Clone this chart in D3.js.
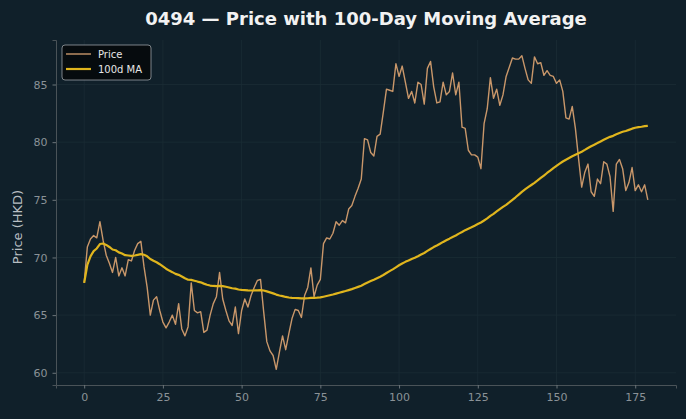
<!DOCTYPE html>
<html>
<head>
<meta charset="utf-8">
<script src="https://cdn.jsdelivr.net/npm/d3@7"></script>
<style>
  body { margin: 0; background: #10202a; }
  svg { display: block; font-family: "DejaVu Sans", sans-serif; }
</style>
</head>
<body>
<div id="chart"></div>
<script>
// daily closing prices, day 0..179
const prices = [
  67.8, 70.9, 71.6, 71.9, 71.7, 73.1, 71.5, 70.2, 69.5, 68.7,
  70.0, 68.4, 69.1, 68.4, 69.8, 69.7, 70.6, 71.2, 71.4, 69.2,
  67.4, 65.0, 66.3, 66.6, 65.4, 64.4, 63.9, 64.4, 65.0, 64.2,
  66.0, 63.8, 63.2, 64.0, 67.8, 65.4, 65.2, 65.3, 63.5, 63.7,
  65.0, 66.0, 66.6, 68.7, 66.4, 65.4, 64.5, 64.1, 65.7, 63.4,
  65.4, 66.4, 65.7, 66.7, 67.4, 68.0, 68.1, 65.3, 62.7, 61.9,
  61.5, 60.3, 61.8, 63.2, 62.0, 63.4, 64.7, 65.5, 65.4, 64.8,
  66.7, 67.4, 69.1, 66.6, 67.6, 68.1, 71.2, 71.7, 71.6, 72.1,
  73.1, 72.8, 73.2, 73.0, 74.2, 74.5, 75.3, 76.0, 76.8, 80.3,
  80.2, 79.1, 78.8, 80.5, 80.7, 82.6, 84.6, 84.5, 84.4, 86.8,
  85.7, 86.6, 85.2, 83.8, 84.4, 83.4, 85.2, 85.0, 83.3, 86.4,
  87.0, 84.8, 83.4, 83.5, 85.2, 84.1, 84.4, 86.0, 84.1, 85.2,
  81.3, 81.2, 79.3, 78.9, 78.9, 78.7, 77.7, 81.6, 82.9, 85.6,
  83.8, 84.6, 83.2, 84.1, 85.7, 86.5, 87.3, 87.2, 87.2, 87.5,
  86.4, 85.4, 85.1, 87.4, 86.8, 86.9, 85.8, 86.2, 85.8, 85.7,
  85.1, 85.4, 84.4, 82.1, 82.0, 83.1, 81.2, 78.6, 76.1, 77.4,
  78.1, 75.7, 75.3, 76.8, 76.4, 78.3, 78.1, 77.0, 74.0, 78.1,
  78.5, 77.7, 75.8, 76.5, 77.8, 75.8, 76.3, 75.7, 76.3, 75.0
];
const days = prices.map((p, i) => i);
const maWindow = 100;
const xTicks = [0, 25, 50, 75, 100, 125, 150, 175];
const yTicks = [60, 65, 70, 75, 80, 85];
const legendLabels = ["Price", "100d MA"];

// 100 day moving average (min_periods = 1)
const ma = prices.map((p, i) => d3.mean(prices.slice(Math.max(0, i - maWindow + 1), i + 1)));

const w = 686, h = 419;
const m = { left: 56, right: 10, top: 40, bottom: 34 };

const svg = d3.select("#chart").append("svg")
  .attr("width", w).attr("height", h);

svg.append("rect").attr("width", w).attr("height", h).attr("fill", "#10202a");

// matplotlib style 5% margins
const xPad = (d3.max(days) - d3.min(days)) * 0.05;
const x = d3.scaleLinear()
  .domain([d3.min(days) - xPad, d3.max(days) + xPad])
  .range([m.left, w - m.right]);

const lo = Math.min(d3.min(prices), d3.min(ma));
const hi = Math.max(d3.max(prices), d3.max(ma));
const yPad = (hi - lo) * 0.05;
const y = d3.scaleLinear()
  .domain([lo - yPad, hi + yPad])
  .range([h - m.bottom, m.top]);

// grid
const grid = svg.append("g");
grid.selectAll(".gx").data(xTicks).enter().append("line")
  .attr("x1", d => x(d)).attr("x2", d => x(d))
  .attr("y1", m.top).attr("y2", h - m.bottom)
  .attr("stroke", "#1b2c35").attr("stroke-width", 0.8);
grid.selectAll(".gy").data(yTicks).enter().append("line")
  .attr("x1", m.left).attr("x2", w - m.right)
  .attr("y1", d => y(d)).attr("y2", d => y(d))
  .attr("stroke", "#1b2c35").attr("stroke-width", 0.8);

// axes
const xAxis = svg.append("g")
  .attr("transform", `translate(0,${h - m.bottom})`)
  .call(d3.axisBottom(x).tickValues(xTicks).tickSize(3.5).tickPadding(5));
const yAxis = svg.append("g")
  .attr("transform", `translate(${m.left},0)`)
  .call(d3.axisLeft(y).tickValues(yTicks).tickSize(3.5).tickPadding(5));

[xAxis, yAxis].forEach(a => {
  a.select(".domain").attr("stroke", "#4a5358").attr("stroke-width", 1);
  a.selectAll(".tick line").attr("stroke", "#6b7479");
  a.selectAll(".tick text").attr("fill", "#8a9297")
    .attr("font-size", 11).attr("font-family", "DejaVu Sans");
});

// lines
const line = d3.line().x((d, i) => x(days[i])).y(d => y(d));

svg.append("path").datum(prices)
  .attr("d", line)
  .attr("fill", "none")
  .attr("stroke", "#c9976a")
  .attr("stroke-width", 1.4)
  .attr("stroke-linejoin", "round");

svg.append("path").datum(ma)
  .attr("d", line)
  .attr("fill", "none")
  .attr("stroke", "#e0b51d")
  .attr("stroke-width", 2.2)
  .attr("stroke-linejoin", "round");

// title and labels
svg.append("text")
  .attr("x", (m.left + w - m.right) / 2).attr("y", 25)
  .attr("text-anchor", "middle")
  .attr("font-size", 18).attr("font-weight", "bold")
  .attr("fill", "#f2f2f2")
  .text("0494 — Price with 100-Day Moving Average");

svg.append("text")
  .attr("transform", "translate(22,227) rotate(-90)")
  .attr("text-anchor", "middle")
  .attr("font-size", 13)
  .attr("fill", "#b8bec2")
  .text("Price (HKD)");

// legend
const lg = svg.append("g").attr("transform", "translate(62,45)");
lg.append("rect")
  .attr("width", 89).attr("height", 35).attr("rx", 3)
  .attr("fill", "#05090b").attr("fill-opacity", 0.9)
  .attr("stroke", "#9aa0a4").attr("stroke-width", 0.8);
const legendColors = ["#c9976a", "#e0b51d"];
const legendWidths = [1.4, 2.2];
legendLabels.forEach((lab, i) => {
  lg.append("line")
    .attr("x1", 4).attr("x2", 29)
    .attr("y1", 9 + i * 15).attr("y2", 9 + i * 15)
    .attr("stroke", legendColors[i]).attr("stroke-width", legendWidths[i]);
  lg.append("text")
    .attr("x", 36).attr("y", 13 + i * 15)
    .attr("font-size", 10).attr("fill", "#e6e6e6")
    .text(lab);
});
</script>
</body>
</html>
